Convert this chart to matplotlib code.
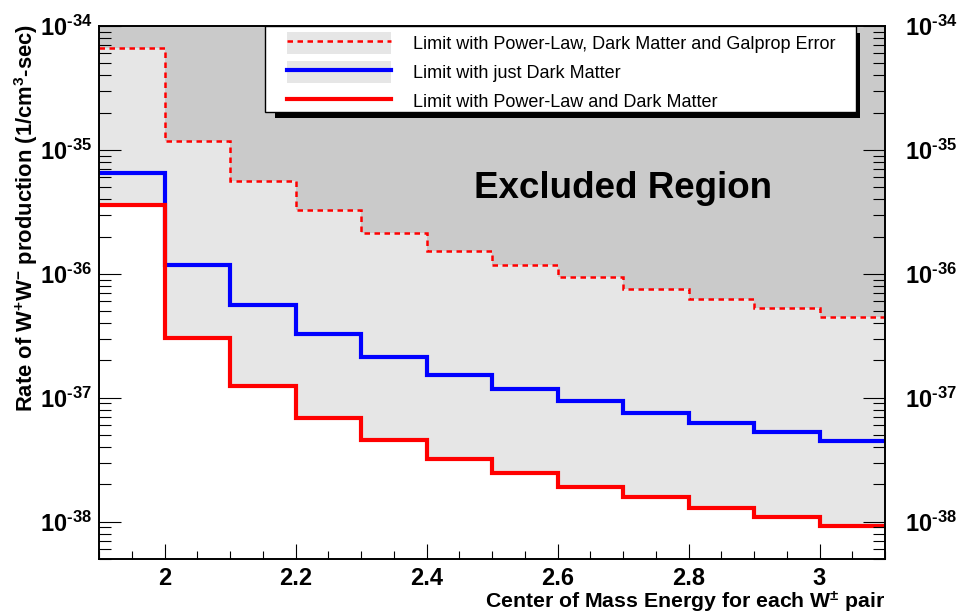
import matplotlib
matplotlib.use('Agg')
import matplotlib.pyplot as plt
import matplotlib.patches as mpatches
from matplotlib.lines import Line2D
import numpy as np

# bin edges (GeV) and limits per bin (1/cm^3-sec)
edges = [1.9, 2.0, 2.1, 2.2, 2.3, 2.4, 2.5, 2.6, 2.7, 2.8, 2.9, 3.0, 3.1]
galprop = [6.6e-35, 1.18e-35, 5.6e-36, 3.3e-36, 2.15e-36, 1.54e-36,
           1.17e-36, 9.4e-37, 7.5e-37, 6.3e-37, 5.3e-37, 4.5e-37]
dark_matter = [6.5e-36, 1.18e-36, 5.6e-37, 3.3e-37, 2.15e-37, 1.54e-37,
               1.18e-37, 9.4e-38, 7.6e-38, 6.3e-38, 5.3e-38, 4.5e-38]
power_law = [3.6e-36, 3.05e-37, 1.25e-37, 6.9e-38, 4.6e-38, 3.2e-38,
             2.45e-38, 1.92e-38, 1.57e-38, 1.3e-38, 1.1e-38, 9.3e-39]

xticks = [2.0, 2.2, 2.4, 2.6, 2.8, 3.0]
xticklabels = ['2', '2.2', '2.4', '2.6', '2.8', '3']
yticks = [1e-38, 1e-37, 1e-36, 1e-35, 1e-34]
yticklabels = ['$10^{\u201038}$', '$10^{\u201037}$', '$10^{\u201036}$',
               '$10^{\u201035}$', '$10^{\u201034}$']
labels = ['Limit with Power-Law, Dark Matter and Galprop Error',
          'Limit with just Dark Matter',
          'Limit with Power-Law and Dark Matter']

plt.rcParams['font.family'] = ['Liberation Sans', 'DejaVu Sans']
plt.rcParams['mathtext.fontset'] = 'custom'
plt.rcParams['mathtext.rm'] = 'Liberation Sans:bold'
plt.rcParams['mathtext.it'] = 'Liberation Sans:bold'
plt.rcParams['mathtext.bf'] = 'Liberation Sans:bold'
plt.rcParams['mathtext.default'] = 'rm'

LIGHT = '#e6e6e6'
DARK = '#cacaca'
ymin, ymax = 5e-39, 1e-34
DASH = (0, (2.2, 1.8))


def step_ext(vals):
    return list(vals) + [vals[-1]]


def setup_log_ticks(a, pad):
    a.set_yscale('log')
    a.set_ylim(ymin, ymax)
    a.set_yticks(yticks)
    a.set_yticklabels(yticklabels, fontsize=17)
    a.yaxis.set_minor_locator(matplotlib.ticker.LogLocator(base=10, subs=np.arange(2, 10)))
    a.yaxis.set_minor_formatter(matplotlib.ticker.NullFormatter())
    a.tick_params(axis='y', which='both', direction='in')
    a.tick_params(axis='y', which='major', length=16, width=0.8, pad=pad)
    a.tick_params(axis='y', which='minor', length=8.5, width=0.8)
    for s in a.spines.values():
        s.set_linewidth(1.2)


fig = plt.figure(figsize=(9.62, 6.15), dpi=100)
ax = fig.add_axes([99 / 962, 1 - 559 / 615, 786 / 962, 533 / 615])
ax.set_xlim(edges[0], edges[-1])
setup_log_ticks(ax, 5)

ax.fill_between(edges, step_ext(galprop), ymax, step='post', color=DARK, lw=0)
ax.fill_between(edges, step_ext(power_law), step_ext(galprop), step='post',
                color=LIGHT, lw=0)
ax.stairs(galprop, edges, color='red', lw=1.8, linestyle=DASH, baseline=None)
ax.stairs(dark_matter, edges, color='blue', lw=3, baseline=None)
ax.stairs(power_law, edges, color='red', lw=3, baseline=None)

ax.text(0.667, 0.696, 'Excluded Region', transform=ax.transAxes,
        ha='center', va='center', fontsize=26.5, fontweight='bold')

ax.set_xticks(xticks)
ax.set_xticklabels(xticklabels, fontweight='bold', fontsize=17)
ax.xaxis.set_minor_locator(matplotlib.ticker.MultipleLocator(0.05))
ax.tick_params(axis='x', which='both', direction='in', top=False)
ax.tick_params(axis='x', which='major', length=11, width=0.8, pad=6)
ax.tick_params(axis='x', which='minor', length=6, width=0.8)

ax2 = ax.twinx()
setup_log_ticks(ax2, 14.4)

# legend: frame and black shadow drawn as boxes, entries without frame
ax2.add_patch(mpatches.Rectangle((0.2239, 0.827), 0.7441, 0.16,
                                 transform=ax.transAxes, facecolor='black',
                                 edgecolor='none', zorder=8, clip_on=False))
ax2.add_patch(mpatches.Rectangle((0.2112, 0.8386), 0.7519, 0.1614,
                                 transform=ax.transAxes, facecolor='white',
                                 edgecolor='black', lw=1.0, zorder=9,
                                 clip_on=False))
handles = [(mpatches.Patch(color=LIGHT, lw=0),
            Line2D([], [], color='red', lw=1.8, linestyle=DASH)),
           (mpatches.Patch(color=LIGHT, lw=0),
            Line2D([], [], color='blue', lw=3)),
           Line2D([], [], color='red', lw=3)]
leg = ax2.legend(handles, labels, loc='upper left',
                 bbox_to_anchor=(0.2392, 0.988), borderaxespad=0,
                 borderpad=0, fontsize=13, handlelength=5.76,
                 handleheight=1.5, handletextpad=1.22, labelspacing=0.38,
                 frameon=False)
leg.set_zorder(10)

fig.text(26 / 962, 1 - 24 / 615,
         'Rate of W$^{+}$W$^{-}$ production (1/cm$^{3}$-sec)',
         rotation=90, ha='center', va='top', fontsize=15.8, fontweight='bold')
fig.text(885 / 962, 1 - 614 / 615,
         'Center of Mass Energy for each W$^{\\pm}$ pair',
         ha='right', va='bottom', fontsize=15.3, fontweight='bold')

fig.savefig('out.png', dpi=100)
